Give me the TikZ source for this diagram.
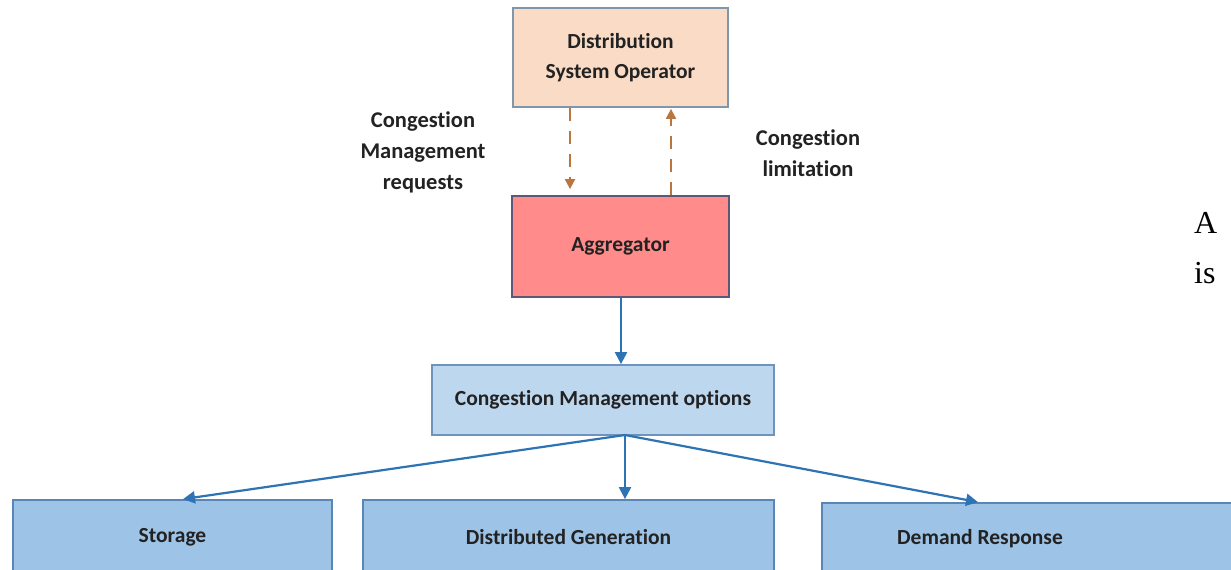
\documentclass[tikz,border=0pt]{standalone}
\usepackage{fontspec}
\setmainfont{Carlito}[Ligatures=NoCommon]
\newfontfamily\serifA{Liberation Serif}
\usetikzlibrary{arrows.meta}
\definecolor{dsofill}{HTML}{F9DBC6}
\definecolor{dsoedge}{HTML}{7E97AC}
\definecolor{aggfill}{HTML}{FF8B8B}
\definecolor{aggedge}{HTML}{5E5878}
\definecolor{cmofill}{HTML}{BDD7EE}
\definecolor{cmoedge}{HTML}{6E93BC}
\definecolor{botfill}{HTML}{9DC3E6}
\definecolor{botedge}{HTML}{5A86B6}
\definecolor{bluearr}{HTML}{2E74B5}
\definecolor{brownarr}{HTML}{B9773F}
\definecolor{txt}{HTML}{222222}
\tikzset{
  box/.style={draw, line width=1.8pt, inner sep=0pt, align=center,
    font=\fontsize{21.5}{30}\selectfont\bfseries, text=txt},
  lbl/.style={align=center, font=\fontsize{22.5}{31}\selectfont\bfseries, text=txt, inner sep=0pt},
  bluearrow/.style={draw=bluearr, line width=2.2pt, -{Triangle[length=12pt,width=12pt]}},
  dasharrow/.style={draw=brownarr, line width=2pt, dash pattern=on 13pt off 10pt,
    -{Triangle[length=10pt,width=10pt]}},
}
\begin{document}
\begin{tikzpicture}[x=1pt,y=-1pt]
\useasboundingbox (0,0) rectangle (1231,570);
\clip (0,0) rectangle (1231,570);
\fill[white] (0,0) rectangle (1231,570);

\node[box, fill=dsofill, draw=dsoedge, minimum width=215pt, minimum height=99pt]
  (dso) at (620.5,57.5) {Distribution\\System Operator};
\node[box, fill=aggfill, draw=aggedge, minimum width=217pt, minimum height=101pt]
  (agg) at (620.5,246.5) {Aggregator};
\node[box, fill=cmofill, draw=cmoedge, minimum width=342pt, minimum height=70pt]
  (cmo) at (603,400) {Congestion Management options};
\node[box, fill=botfill, draw=botedge, minimum width=319pt, minimum height=74pt]
  (sto) at (172.5,537) {Storage};
\node[box, fill=botfill, draw=botedge, minimum width=411pt, minimum height=74pt]
  (dg) at (568.5,537) {Distributed Generation};
\node[box, fill=botfill, draw=botedge, minimum width=418pt, minimum height=72pt]
  (dr) at (1031,539) {Demand Response\hspace*{102pt}};

\node[lbl] (req) at (423,152) {Congestion\\Management\\requests};
\node[lbl] (lim) at (808,153) {Congestion\\limitation};

\node[anchor=base west, inner sep=0pt, font=\serifA\fontsize{32}{32}\selectfont] (ta) at (1194,233) {A};
\node[anchor=base west, inner sep=0pt, font=\serifA\fontsize{32}{32}\selectfont] (tis) at (1194,283) {is};

\draw[dasharrow] ([xshift=-50.5pt]dso.south) -- ([xshift=-50.5pt,yshift=6pt]agg.north);
\draw[dasharrow] ([xshift=50.5pt]agg.north) -- ([xshift=50.5pt,yshift=-1pt]dso.south);

\draw[bluearrow] ([xshift=0.5pt]agg.south) -- ([xshift=0.5pt]agg.south |- cmo.north);
\coordinate (hub) at (625,435);
\draw[bluearrow] (hub) -- ([xshift=10.5pt]sto.north);
\draw[bluearrow] (hub) -- (hub |- dg.north);
\draw[bluearrow] (hub) -- ([xshift=-53pt]dr.north);
\end{tikzpicture}
\end{document}
